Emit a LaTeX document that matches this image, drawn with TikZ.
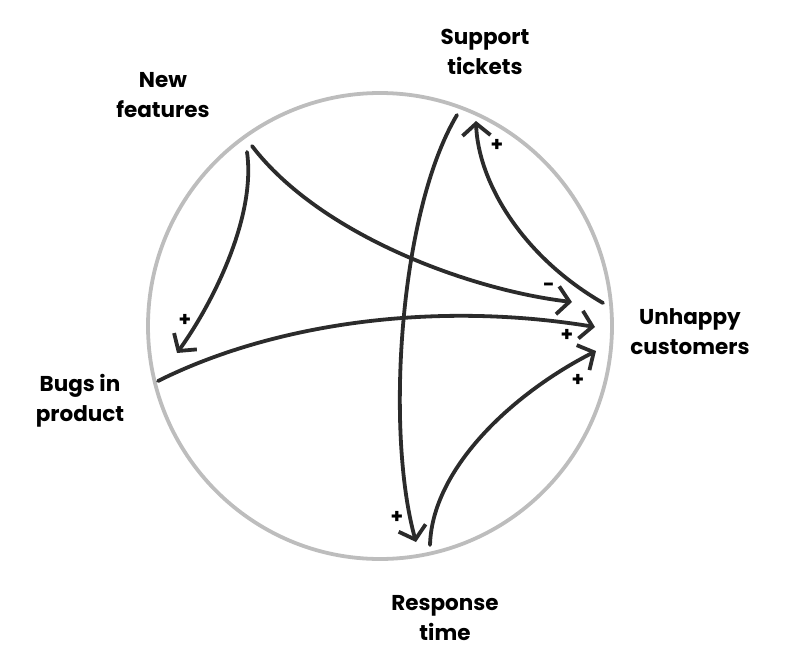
\documentclass[tikz,border=0pt]{standalone}
\usepackage{fontspec}
\setmainfont{Poppins}
\usetikzlibrary{arrows.meta}
\definecolor{ink}{HTML}{2B2B2B}
\definecolor{ring}{HTML}{BDBDBD}
\begin{document}
\begin{tikzpicture}[x=1pt,y=-1pt,
  lbl/.style={font=\fontsize{21.5}{30}\selectfont\bfseries, align=center, text=black},
  sgn/.style={font=\fontsize{20}{20}\selectfont\bfseries, text=black, inner sep=0pt},
  link/.style={draw=ink, line width=3.8pt, line cap=round, line join=round,
    -{Straight Barb[length=12pt,width=28pt,line width=3.8pt]}}]
\useasboundingbox (0,0) rectangle (812,672);
\draw[ring, line width=3.8pt] (380,326) ellipse [x radius=232, y radius=233];
% labels
\node[lbl] (nf) at (163,95) {New\\features};
\node[lbl] (st) at (485,52) {Support\\tickets};
\node[lbl] (uc) at (690,332) {Unhappy\\customers};
\node[lbl] (bp) at (80,401) {Bugs in\\product};
\node[lbl] (rt) at (445,618) {Response\\time};
% end points
\coordinate (a1) at (247,152); \coordinate (b1) at (177,353);
\coordinate (a2) at (252,146); \coordinate (b2) at (572,302);
\coordinate (a3) at (457,115); \coordinate (b3) at (416,542);
\coordinate (a4) at (603,303); \coordinate (b4) at (476,121);
\coordinate (a5) at (158,381); \coordinate (b5) at (595,327);
\coordinate (a6) at (430,545); \coordinate (b6) at (596,351);
% arrows
\draw[link] (a1) .. controls (256,215) and (215,300) .. (b1);
\draw[link] (a2) .. controls (320,235) and (470,290) .. (b2);
\draw[link] (a3) .. controls (400,210) and (385,430) .. (b3);
\draw[link] (a4) .. controls (520,255) and (478,180) .. (b4);
\draw[link] (a5) .. controls (270,325) and (430,300) .. (b5);
\draw[link] (a6) .. controls (432,470) and (510,395) .. (b6);
% signs
\node[sgn] (s1) at (185,320) {+};
\node[sgn] (s2) at (549,287) {-};
\node[sgn] (s3) at (397,517) {+};
\node[sgn] (s4) at (497,145) {+};
\node[sgn] (s5) at (567,335) {+};
\node[sgn] (s6) at (578,380) {+};
\end{tikzpicture}
\end{document}
